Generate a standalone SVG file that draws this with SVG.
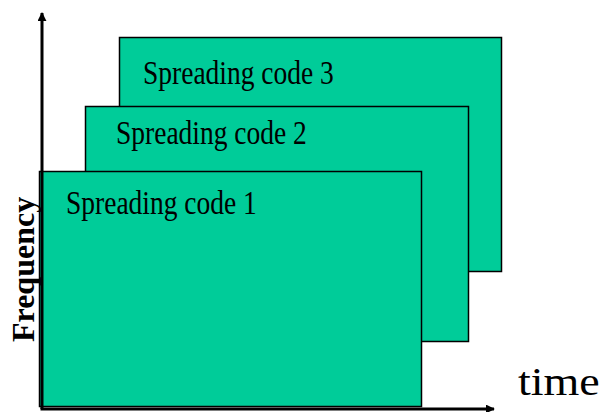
<svg xmlns="http://www.w3.org/2000/svg" width="604" height="412" viewBox="0 0 604 412">
  <style>
    .card { fill: #00CC99; stroke: #000; stroke-width: 1.5; }
    .label { font-family: "Liberation Serif", "Times New Roman", serif; font-size: 27.5px; fill: #000; }
    .axis { stroke: #000; stroke-width: 3; fill: none; }
    .axis-title { font-family: "Liberation Serif", "Times New Roman", serif; fill: #000; }
  </style>
  <defs>
    <marker id="arrow" viewBox="0 0 10 10" refX="9" refY="5" markerWidth="3" markerHeight="3" orient="auto" markerUnits="strokeWidth">
      <path d="M0,0 L10,5 L0,10 z" fill="#000"/>
    </marker>
  </defs>
  <rect width="604" height="412" fill="#fff"/>

  <!-- stacked code layers, back to front -->
  <g id="code3">
    <rect class="card" x="119.5" y="37.5" width="382" height="234"/>
    <text class="label" transform="translate(143,83.5) scale(1,1.2)">Spreading code 3</text>
  </g>
  <g id="code2">
    <rect class="card" x="85.5" y="106.5" width="383" height="235"/>
    <text class="label" transform="translate(116,143.5) scale(1,1.2)">Spreading code 2</text>
  </g>
  <g id="code1">
    <rect class="card" x="39.5" y="171.5" width="382" height="235"/>
    <text class="label" transform="translate(66,213.5) scale(1,1.2)">Spreading code 1</text>
  </g>

  <!-- axes -->
  <g id="connectors">
    <line class="axis" x1="42" y1="409" x2="42" y2="13" marker-end="url(#arrow)"/>
    <line class="axis" x1="40.5" y1="409" x2="494" y2="409" marker-end="url(#arrow)"/>
  </g>

  <g id="axis-labels">
    <text class="axis-title" font-size="32" font-weight="bold" transform="translate(33.5,342) rotate(-90)">Frequency</text>
    <text class="axis-title" font-size="40" transform="translate(518,395) scale(1.15,1)">time</text>
  </g>
</svg>
